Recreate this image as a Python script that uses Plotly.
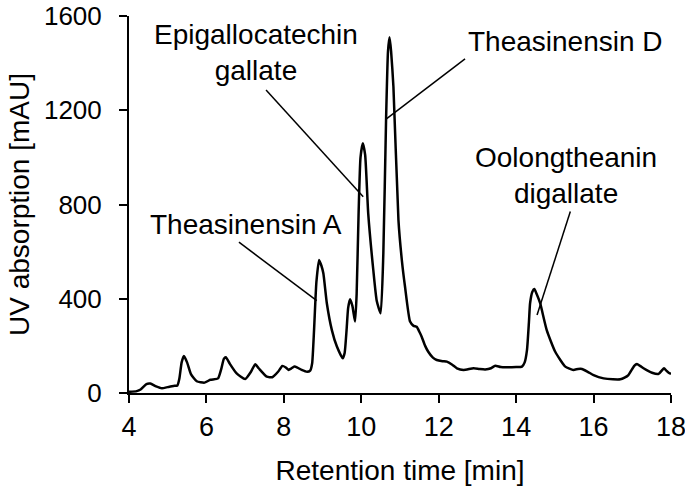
import plotly.graph_objects as go

# Chromatogram trace (retention time [min], UV absorption [mAU])
time_min = [4.0, 4.2, 4.3, 4.45, 4.55, 4.7, 4.85, 5.0, 5.15, 5.25, 5.3, 5.36, 5.42, 5.5, 5.6, 5.75,
            5.95, 6.1, 6.3, 6.38, 6.45, 6.5, 6.6, 6.78, 7.0, 7.15, 7.26, 7.35, 7.56, 7.7, 7.85,
            7.96, 8.05, 8.12, 8.2, 8.27, 8.35, 8.46, 8.6, 8.68, 8.73, 8.78, 8.84, 8.91, 8.97,
            9.02, 9.11, 9.24, 9.37, 9.52, 9.57, 9.62, 9.66, 9.71, 9.77, 9.84, 9.88, 9.93, 9.98,
            10.04, 10.1, 10.18, 10.31, 10.4, 10.5, 10.57, 10.64, 10.69, 10.73, 10.77, 10.83,
            10.96, 11.05, 11.13, 11.26, 11.35, 11.43, 11.5, 11.56, 11.65, 11.73, 11.85, 11.95,
            12.1, 12.21, 12.35, 12.47, 12.64, 12.9, 13.05, 13.2, 13.35, 13.46, 13.6, 13.76,
            14.0, 14.15, 14.22, 14.28, 14.33, 14.36, 14.42, 14.47, 14.53, 14.62, 14.79, 15.01,
            15.27, 15.48, 15.6, 15.7, 15.85, 16.0, 16.26, 16.5, 16.69, 16.8, 16.9, 17.05, 17.12,
            17.2, 17.29, 17.51, 17.68, 17.76, 17.82, 17.88, 17.94, 18.0]
absorbance = [5, 8, 15, 38, 40, 28, 20, 25, 30, 32, 60, 130, 157, 130, 80, 50,
              44, 56, 62, 100, 145, 152, 125, 83, 59, 90, 122, 105, 69, 67, 90,
              115, 108, 98, 105, 112, 108, 98, 90, 95, 125, 267, 470, 565, 540,
              508, 381, 267, 197, 147, 170, 267, 360, 398, 370, 303, 420, 760, 1000,
              1060, 1010, 760, 522, 390, 338, 594, 1159, 1450, 1510, 1450, 1300,
              734, 560, 451, 303, 285, 281, 260, 239, 200, 175, 150, 140,
              135, 133, 120, 105, 98, 105, 102, 100, 105, 116, 110, 109,
              110, 112, 130, 182, 300, 381, 430, 441, 420, 381, 267, 175,
              112, 98, 102, 102, 90, 76, 62, 58, 58, 65, 76, 115, 123,
              115, 105, 86, 81, 95, 105, 95, 86, 81]

x_ticks = [4, 6, 8, 10, 12, 14, 16, 18]
y_ticks = [0, 400, 800, 1200, 1600]

# Peak labels: text, text anchor (x, y), leader line start (x, y), leader line end (x, y)
label_texts = ["Theasinensin A", "Epigallocatechin<br>gallate", "Theasinensin D", "Oolongtheanin<br>digallate"]
label_x = [7.02, 7.28, 15.27, 15.3]
label_y = [717, 1447, 1491, 921]
leader_x0 = [6.84, 7.54, 12.68, 15.40]
leader_y0 = [640, 1286, 1418, 770]
leader_x1 = [8.85, 10.05, 10.64, 14.54]
leader_y1 = [392, 833, 1162, 331]

FONT = "Liberation Sans, Arial, sans-serif"

fig = go.Figure()
fig.add_trace(go.Scatter(x=time_min, y=absorbance, mode="lines",
                         line=dict(color="black", width=2.5, shape="spline", smoothing=0.5),
                         showlegend=False, hoverinfo="skip"))

for i in range(len(label_texts)):
    fig.add_shape(type="line", xref="x", yref="y",
                  x0=leader_x0[i], y0=leader_y0[i], x1=leader_x1[i], y1=leader_y1[i],
                  line=dict(color="black", width=1.5))
    fig.add_annotation(x=label_x[i], y=label_y[i], xref="x", yref="y", text=label_texts[i],
                       showarrow=False, xanchor="center", yanchor="middle",
                       font=dict(family=FONT, size=28, color="black"))

axis_common = dict(showline=True, linecolor="black", linewidth=2, ticks="outside",
                   ticklen=8, tickwidth=2, tickcolor="black", showgrid=False, zeroline=False,
                   automargin=False, ticklabeloverflow="allow",
                   title_font=dict(family=FONT, size=28, color="black"))

fig.update_xaxes(range=[4, 18], tickvals=x_ticks, title_text="Retention time [min]",
                 tickfont=dict(family=FONT, size=27, color="black"),
                 ticklabelstandoff=1, title_standoff=19, **axis_common)
fig.update_yaxes(range=[0, 1600], tickvals=y_ticks, title_text="UV absorption [mAU]",
                 tickfont=dict(family=FONT, size=26, color="black"),
                 title_standoff=6, ticklabelstandoff=12, **axis_common)

fig.update_layout(width=685, height=489, margin=dict(l=129, r=14, t=16, b=96),
                  plot_bgcolor="white", paper_bgcolor="white",
                  font=dict(family=FONT, color="black"))

fig.write_html("out.html", config={"displayModeBar": False},
               post_script="document.body.style.margin='0';document.body.style.overflow='hidden';")
